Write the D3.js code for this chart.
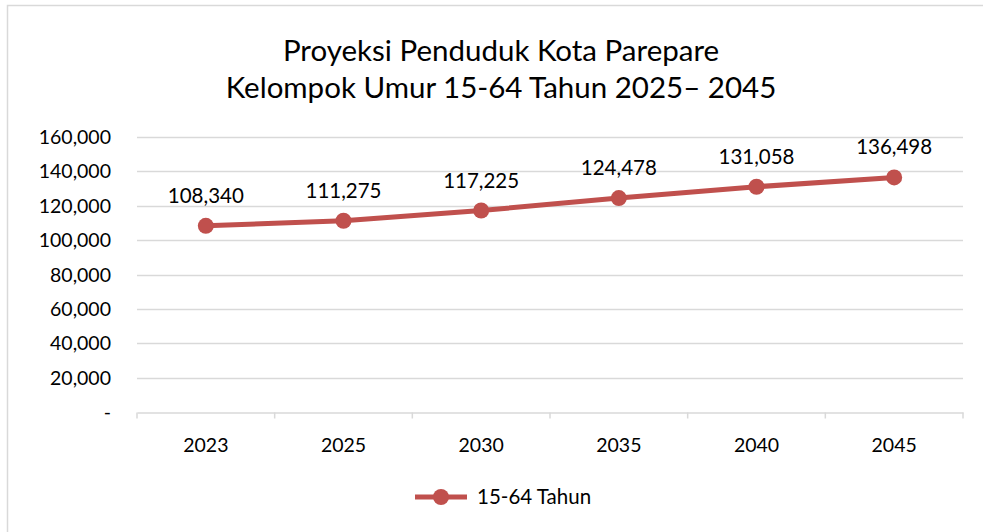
<!DOCTYPE html>
<html>
<head>
<meta charset="utf-8">
<script src="https://cdn.jsdelivr.net/npm/d3@7/dist/d3.min.js"></script>
<style>
  html, body { margin: 0; padding: 0; background: #fff; }
  svg { display: block; font-family: Lato, "Open Sans", sans-serif; }
</style>
</head>
<body>
<svg id="chart" width="983" height="532"></svg>
<script>
// Population projection, age group 15-64
const years = ["2023", "2025", "2030", "2035", "2040", "2045"];
const population = [108340, 111275, 117225, 124478, 131058, 136498];
const yTicks = [0, 20000, 40000, 60000, 80000, 100000, 120000, 140000, 160000];
const titleLines = ["Proyeksi Penduduk Kota Parepare", "Kelompok Umur 15-64 Tahun 2025– 2045"];
const seriesName = "15-64 Tahun";

const svg = d3.select("#chart");
const color = "#c0504d";
const gridColor = "#d9d9d9";

// chart frame
svg.append("rect")
  .attr("x", 7.5).attr("y", 5.5)
  .attr("width", 990).attr("height", 540)
  .attr("fill", "#fff").attr("stroke", "#d9d9d9").attr("stroke-width", 1.5);

const plot = { left: 137, right: 963, top: 137, bottom: 412 };

const x = d3.scaleBand().domain(years).range([plot.left, plot.right]);
const y = d3.scaleLinear().domain([0, 160000]).range([plot.bottom, plot.top]);

// title
svg.append("g").selectAll("text").data(titleLines).join("text")
  .attr("x", 501).attr("y", (d, i) => 61 + i * 37)
  .attr("text-anchor", "middle")
  .attr("font-size", 29.5).attr("fill", "#000")
  .text(d => d);

// horizontal gridlines
svg.append("g").selectAll("line").data(yTicks.filter(t => t > 0)).join("line")
  .attr("x1", plot.left).attr("x2", plot.right)
  .attr("y1", d => Math.round(y(d)) + 0.5).attr("y2", d => Math.round(y(d)) + 0.5)
  .attr("stroke", gridColor).attr("stroke-width", 1.5);

// y axis labels
const fmt = d3.format(",");
svg.append("g").selectAll("text").data(yTicks).join("text")
  .attr("x", 111).attr("y", d => y(d) + 7)
  .attr("text-anchor", "end")
  .attr("font-size", 19.5).attr("fill", "#000")
  .text(d => d === 0 ? "-" : fmt(d));

// x axis with category boundary ticks
const xAxis = d3.axisBottom(x).tickSize(0).tickPadding(26);
const gx = svg.append("g")
  .attr("transform", `translate(0,${Math.round(plot.bottom) + 0.5})`)
  .call(xAxis);
gx.select(".domain").attr("stroke", gridColor).attr("stroke-width", 1.5);
gx.selectAll("text").attr("font-size", 19.5).attr("fill", "#000")
  .attr("font-family", "Lato, 'Open Sans', sans-serif");
const bounds = years.map(d => x(d)).concat([x(years[years.length - 1]) + x.bandwidth()]);
gx.selectAll(".bound").data(bounds).join("line").attr("class", "bound")
  .attr("x1", d => d).attr("x2", d => d)
  .attr("y1", 0).attr("y2", 6)
  .attr("stroke", gridColor).attr("stroke-width", 1.5);

// series line
const cx = d => x(d) + x.bandwidth() / 2;
const line = d3.line().x((d, i) => cx(years[i])).y(d => y(d));
svg.append("path").datum(population)
  .attr("d", line)
  .attr("fill", "none").attr("stroke", color)
  .attr("stroke-width", 5).attr("stroke-linejoin", "round").attr("stroke-linecap", "round");

// markers
svg.append("g").selectAll("circle").data(population).join("circle")
  .attr("cx", (d, i) => cx(years[i])).attr("cy", d => y(d))
  .attr("r", 8).attr("fill", color);

// value labels
svg.append("g").selectAll("text").data(population).join("text")
  .attr("x", (d, i) => cx(years[i])).attr("y", d => y(d) - 23)
  .attr("text-anchor", "middle")
  .attr("font-size", 20.5).attr("fill", "#000")
  .text(d => fmt(d));

// legend
const lg = svg.append("g").attr("transform", "translate(415,497)");
lg.append("line").attr("x1", 0).attr("x2", 52).attr("y1", 0).attr("y2", 0)
  .attr("stroke", color).attr("stroke-width", 5);
lg.append("circle").attr("cx", 26).attr("cy", 0).attr("r", 8).attr("fill", color);
lg.append("text").attr("x", 62).attr("y", 7)
  .attr("font-size", 20.5).attr("fill", "#000").text(seriesName);
</script>
</body>
</html>
